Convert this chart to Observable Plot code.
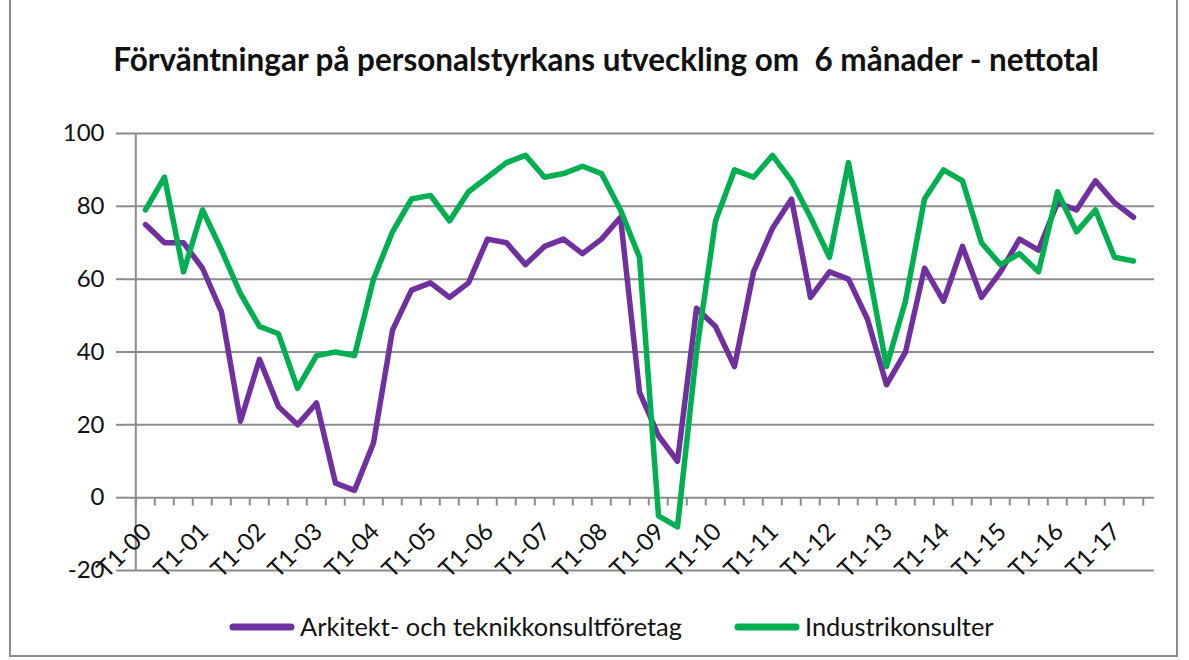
<!DOCTYPE html>
<html>
<head>
<meta charset="utf-8">
<script src="https://cdn.jsdelivr.net/npm/d3@7"></script>
<script src="https://cdn.jsdelivr.net/npm/@observablehq/plot@0.6"></script>
<style>
  body { margin: 0; background: #fff; }
  #wrap { position: relative; width: 1189px; height: 660px; overflow: hidden; font-family: Lato, "Open Sans", sans-serif; color: #111; }
  #frame { position: absolute; left: 9px; top: -4px; width: 1169px; height: 661px; border: 2px solid #8c8c8c; box-sizing: border-box; }
  #title { position: absolute; top: 44px; left: 0; width: 1212px; text-align: center; font-weight: bold; white-space: pre; line-height: 1; }
  #chart { position: absolute; left: 0; top: 100px; }
  .leg { position: absolute; top: 612px; display: flex; align-items: center; white-space: nowrap; line-height: 1; }
  .leg svg { margin-right: 5px; }
</style>
</head>
<body>
<div id="wrap">
  <div id="frame"></div>
  <div id="title"></div>
  <div id="chart"></div>
  <div id="legend"></div>
</div>
<script>
const titleText = "Förväntningar på personalstyrkans utveckling om  6 månader - nettotal";
const seriesNames = ["Arkitekt- och teknikkonsultföretag", "Industrikonsulter"];
const seriesColors = ["#7030A0", "#00B050"];

const periods = [
  "T1-00","T2-00","T3-00","T1-01","T2-01","T3-01","T1-02","T2-02","T3-02",
  "T1-03","T2-03","T3-03","T1-04","T2-04","T3-04","T1-05","T2-05","T3-05",
  "T1-06","T2-06","T3-06","T1-07","T2-07","T3-07","T1-08","T2-08","T3-08",
  "T1-09","T2-09","T3-09","T1-10","T2-10","T3-10","T1-11","T2-11","T3-11",
  "T1-12","T2-12","T3-12","T1-13","T2-13","T3-13","T1-14","T2-14","T3-14",
  "T1-15","T2-15","T3-15","T1-16","T2-16","T3-16","T1-17","T2-17"
];

const arkitekt = [
  75, 70, 70, 63, 51, 21, 38, 25, 20, 26, 4, 2, 15,
  46, 57, 59, 55, 59, 71, 70, 64, 69, 71, 67, 71, 77,
  29, 17, 10, 52, 47, 36, 62, 74, 82, 55, 62, 60, 49, 31,
  40, 63, 54, 69, 55, 62, 71, 68, 81, 79, 87, 81, 77
];

const industri = [
  79, 88, 62, 79, 68, 56, 47, 45, 30, 39, 40, 39, 60,
  73, 82, 83, 76, 84, 88, 92, 94, 88, 89, 91, 89, 79,
  66, -5, -8, 40, 76, 90, 88, 94, 87, 77, 66, 92, 64, 36,
  54, 82, 90, 87, 70, 64, 67, 62, 84, 73, 79, 66, 65
];

const yTicks = [-20, 0, 20, 40, 60, 80, 100];
const xLabels = periods.filter(p => p.startsWith("T1"));

const table = periods.map((p, i) => ({period: p, arkitekt: arkitekt[i], industri: industri[i]}));

// layout
const W = 1189, H = 490, ML = 124, MR = 35, MT = 33, MB = 20;
const step = (W - ML - MR) / periods.length;
const gridColor = "#8c8c8c";
const textColor = "#111";
const tickLen = 2.3; // in y units (~8px)

function fitSize(text, weight, target) {
  const c = document.createElement("canvas").getContext("2d");
  c.font = `${weight} 100px Lato`;
  return 100 * target / c.measureText(text).width;
}

// title
const t = document.getElementById("title");
t.textContent = titleText;
t.style.fontSize = fitSize(titleText, "bold", 987).toFixed(2) + "px";

const chart = Plot.plot({
  width: W,
  height: H,
  marginLeft: ML,
  marginRight: MR,
  marginTop: MT,
  marginBottom: MB,
  style: {fontFamily: "Lato, sans-serif", fontSize: "24px", color: textColor, background: "transparent", overflow: "visible"},
  x: {type: "point", domain: periods, padding: 0.5, axis: null},
  y: {domain: [-20, 100], axis: null},
  marks: [
    Plot.ruleY(yTicks, {stroke: gridColor, strokeWidth: 2}),
    Plot.axisY({ticks: yTicks, tickFormat: () => "", tickSize: 8, stroke: gridColor, strokeWidth: 2}),
    Plot.text(yTicks, {y: d => d, text: d => String(d), frameAnchor: "left", textAnchor: "end", dx: -20, fontSize: 24, fill: textColor}),
    Plot.ruleX([periods[0]], {dx: -step / 2, y1: -20, y2: 100, stroke: gridColor, strokeWidth: 2}),
    Plot.ruleX(periods, {dx: -step / 2, y1: 0, y2: -tickLen, stroke: gridColor, strokeWidth: 2}),
    Plot.ruleX([periods[periods.length - 1]], {dx: step / 2, y1: 0, y2: -tickLen, stroke: gridColor, strokeWidth: 2}),
    Plot.text(xLabels, {x: d => d, y: 0, text: d => d, rotate: -45, textAnchor: "end", dx: 2, dy: 30, fontSize: 24, fill: textColor}),
    Plot.line(table, {x: "period", y: "arkitekt", stroke: seriesColors[0], strokeWidth: 5.5, strokeLinejoin: "round", strokeLinecap: "round"}),
    Plot.line(table, {x: "period", y: "industri", stroke: seriesColors[1], strokeWidth: 5.5, strokeLinejoin: "round", strokeLinecap: "round"})
  ]
});
document.getElementById("chart").appendChild(chart);

// legend
const legSize = fitSize(seriesNames[0], "normal", 382);
const legLeft = [229, 734];
const legend = document.getElementById("legend");
seriesNames.forEach((name, i) => {
  const d = document.createElement("div");
  d.className = "leg";
  d.style.left = legLeft[i] + "px";
  d.style.fontSize = legSize.toFixed(2) + "px";
  d.innerHTML = `<svg width="66" height="30"><line x1="4" y1="15" x2="62" y2="15" stroke="${seriesColors[i]}" stroke-width="7" stroke-linecap="round"/></svg><span>${name}</span>`;
  legend.appendChild(d);
});
</script>
</body>
</html>
